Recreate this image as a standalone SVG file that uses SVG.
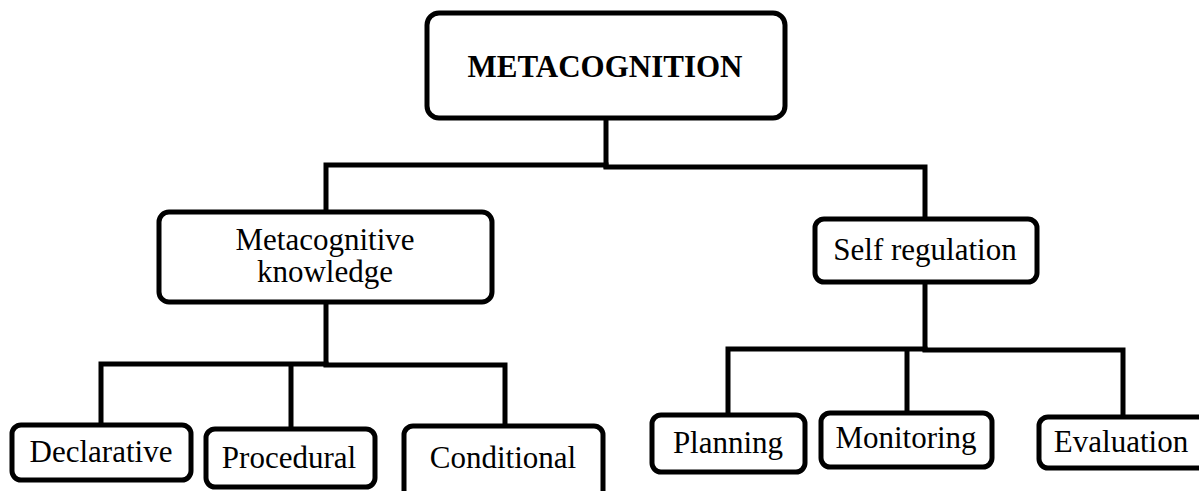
<svg xmlns="http://www.w3.org/2000/svg" width="1199" height="491" viewBox="0 0 1199 491">
<style>
.box{fill:#fff;stroke:#000;stroke-width:5}
.ln{fill:none;stroke:#000;stroke-width:5;stroke-linejoin:miter;stroke-linecap:square}
.t{font-family:"Liberation Serif","Times New Roman",serif;font-size:31px;fill:#000;text-anchor:middle}
.b{font-weight:bold}
</style>
<rect width="1199" height="491" fill="#fff"/>
<g id="connectors">
<path class="ln" d="M606,118 V166"/>
<path class="ln" d="M326,212 V165 H606"/>
<path class="ln" d="M606,167 H925 V219"/>
<path class="ln" d="M326,302 V364"/>
<path class="ln" d="M101,425 V364 H326"/>
<path class="ln" d="M291,429 V365"/>
<path class="ln" d="M326,365 H505 V426"/>
<path class="ln" d="M925,282 V349"/>
<path class="ln" d="M728,415 V349 H925"/>
<path class="ln" d="M907,413 V350"/>
<path class="ln" d="M925,350 H1123 V417"/>
</g>
<g id="metacognition">
<rect class="box" x="427" y="13" width="358" height="105" rx="12"/>
<text class="t b" x="605" y="77">METACOGNITION</text>
</g>
<g id="metacognitive-knowledge">
<rect class="box" x="159" y="212" width="333" height="90" rx="10"/>
<text class="t" x="325" y="250">Metacognitive</text>
<text class="t" x="325" y="282">knowledge</text>
</g>
<g id="self-regulation">
<rect class="box" x="815" y="219" width="222" height="63" rx="9"/>
<text class="t" x="925" y="260">Self regulation</text>
</g>
<g id="declarative">
<rect class="box" x="12" y="425" width="179" height="55" rx="9"/>
<text class="t" x="101" y="462">Declarative</text>
</g>
<g id="procedural">
<rect class="box" x="206" y="429" width="169" height="58" rx="9"/>
<text class="t" x="289" y="468">Procedural</text>
</g>
<g id="conditional">
<rect class="box" x="404" y="426" width="199" height="80" rx="9"/>
<text class="t" x="503" y="468">Conditional</text>
</g>
<g id="planning">
<rect class="box" x="652" y="415" width="153" height="57" rx="9"/>
<text class="t" x="728" y="453">Planning</text>
</g>
<g id="monitoring">
<rect class="box" x="821" y="413" width="171" height="54" rx="9"/>
<text class="t" x="906" y="448">Monitoring</text>
</g>
<g id="evaluation">
<rect class="box" x="1039" y="417" width="170" height="51" rx="9"/>
<text class="t" x="1121" y="452">Evaluation</text>
</g>
</svg>
